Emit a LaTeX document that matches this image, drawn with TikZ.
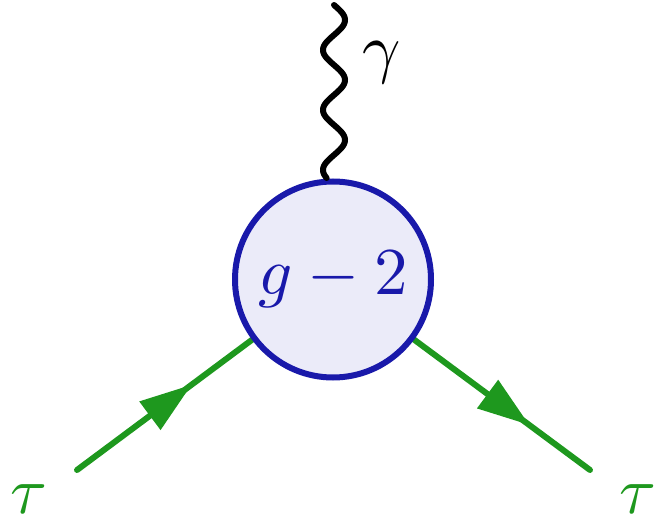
\documentclass[tikz,border=0pt]{standalone}
\usepackage{graphicx}
\usetikzlibrary{arrows.meta,decorations.markings,backgrounds}
\definecolor{fgreen}{RGB}{30,152,30}
\definecolor{blobblue}{RGB}{25,25,170}
\definecolor{blobfill}{RGB}{235,235,249}
\newcommand{\hugemath}[1]{\scalebox{6.7}{$#1$}}
\begin{document}
\begin{tikzpicture}[x=1pt,y=-1pt,
  fermion/.style={draw=fgreen,line width=6pt,line cap=round,
    postaction={decorate},
    decoration={markings,mark=at position 0.655 with {\arrow{Triangle[length=52pt,width=34pt]}}}},
  photon/.style={draw=black,line width=6pt,line cap=round},
  lbl/.style={inner sep=0pt}]
\useasboundingbox (0,0) rectangle (656,518);
\coordinate (lin) at (77,470);
\coordinate (rout) at (590,470);
\node[circle,draw=blobblue,fill=blobfill,line width=6pt,minimum size=196pt,inner sep=0pt,text=blobblue] (blob) at (333,279.5) {\hugemath{g-2}};
\begin{scope}[on background layer]
\draw[fermion,fgreen] (lin) -- (blob);
\draw[fermion,fgreen] (blob) -- (rout);
\end{scope}
\draw[photon] plot[domain=178:5,samples=200] ({334-11*cos(6*(\x-170))},\x);
\node[lbl] (gam) at (382,63) {\hugemath{\gamma}};
\node[lbl,text=fgreen] (taul) at (29,499) {\hugemath{\tau}};
\node[lbl,text=fgreen] (taur) at (638,499) {\hugemath{\tau}};
\end{tikzpicture}
\end{document}
